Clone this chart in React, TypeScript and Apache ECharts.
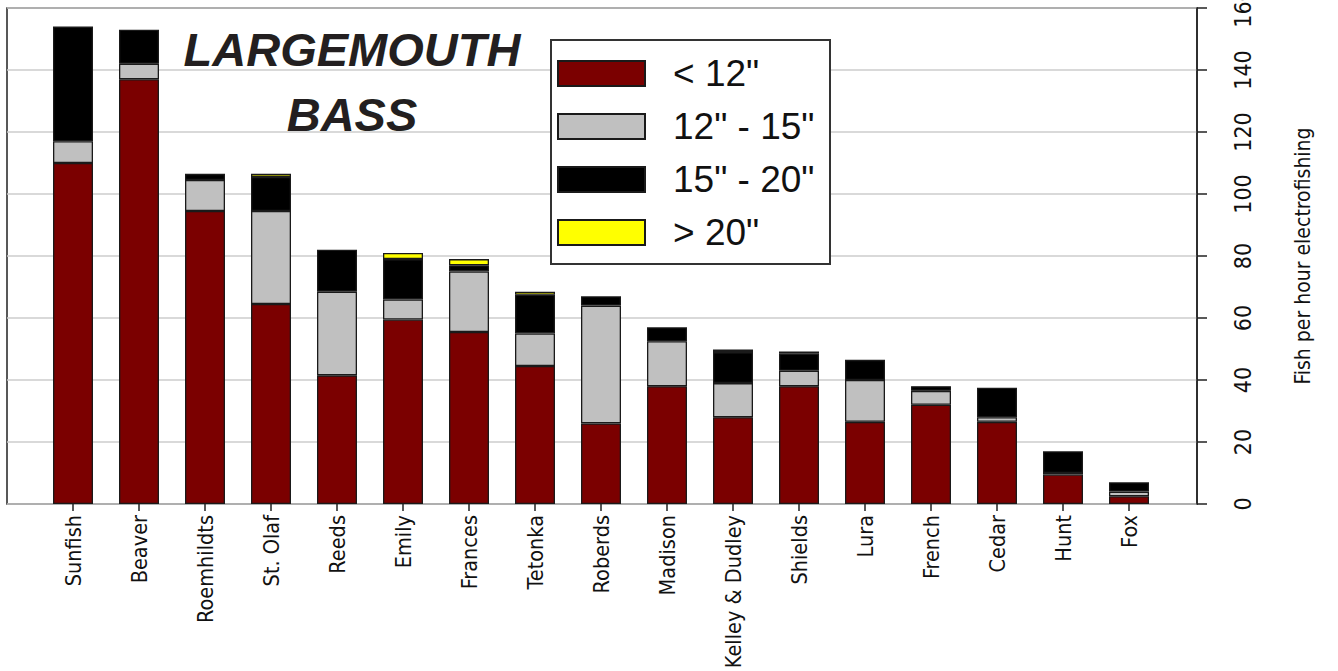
import React, { useEffect, useRef } from "react";
import * as echarts from "echarts";

const lakes = [
  "Sunfish", "Beaver", "Roemhildts", "St. Olaf", "Reeds", "Emily", "Frances", "Tetonka",
  "Roberds", "Madison", "Kelley & Dudley", "Shields", "Lura", "French", "Cedar", "Hunt", "Fox",
];
const under12 = [110, 137, 94.5, 64.5, 41.5, 59.5, 55.5, 44.5, 26, 38, 28, 38, 26.5, 32, 26.5, 9.5, 2.5];
const from12to15 = [7, 5, 10, 30, 27, 6.5, 19.5, 10.5, 38, 14.5, 11, 5, 13.5, 4.5, 1.5, 0.5, 1.5];
const from15to20 = [37, 11, 2, 11, 13.5, 13, 2, 12.5, 3, 4.5, 10, 5.5, 6.5, 1.5, 9.5, 7, 3];
const over20 = [0, 0, 0, 1, 0, 2, 2, 1, 0, 0, 0.8, 0.7, 0, 0, 0, 0, 0];

const seriesNames = ['< 12"', '12" - 15"', '15" - 20"', '> 20"'];
const seriesColors = ["#7B0000", "#C0C0C0", "#000000", "#FFFF00"];
const yTicks = [0, 20, 40, 60, 80, 100, 120, 140, 160];

const titleText = "LARGEMOUTH\nBASS";
const yAxisName = "Fish per hour electrofishing";

const NARROW = '"Liberation Sans Narrow", "DejaVu Sans Condensed", "Roboto Condensed", sans-serif';

export default function App() {
  const ref = useRef<HTMLDivElement>(null);
  useEffect(() => {
    if (!ref.current) return;
    const chart = echarts.init(ref.current, null, { renderer: "svg" });
    const allSeries = [under12, from12to15, from15to20, over20];
    const option = {
      animation: false,
      backgroundColor: "#ffffff",
      grid: [
        { left: 7, right: 141, top: 8, bottom: 167, show: true, borderColor: "#222", borderWidth: 1.5, backgroundColor: "transparent", outerBoundsMode: "none", containLabel: false },
        { left: 40, right: 176, top: 8, bottom: 167, outerBoundsMode: "none", containLabel: false },
      ],
      xAxis: [
        { type: "category", gridIndex: 0, data: lakes, show: false },
        {
          type: "category",
          gridIndex: 1,
          data: lakes,
          axisLine: { show: false },
          axisTick: { show: true, alignWithLabel: true, length: 7, lineStyle: { color: "#222", width: 1.5 } },
          axisLabel: { interval: 0, rotate: 90, margin: 11, fontSize: 21.5, fontFamily: NARROW, color: "#111" },
        },
      ],
      yAxis: [
        {
          type: "value",
          gridIndex: 0,
          position: "right",
          min: yTicks[0],
          max: yTicks[yTicks.length - 1],
          interval: 20,
          axisLine: { show: true, lineStyle: { color: "#222", width: 1.5 } },
          axisTick: { show: true, length: 10, lineStyle: { color: "#222", width: 1.5 } },
          axisLabel: { rotate: 90, margin: 34, fontSize: 23, fontFamily: NARROW, color: "#111" },
          splitLine: { show: true, lineStyle: { color: "#cccccc", width: 1.5 } },
          name: yAxisName,
          nameLocation: "middle",
          nameRotate: 90,
          nameGap: 95,
          nameTextStyle: { fontSize: 21, fontFamily: NARROW, color: "#111" },
        },
        { type: "value", gridIndex: 1, min: 0, max: 160, interval: 20, show: false },
      ],
      legend: {
        orient: "vertical",
        left: 551,
        top: 40,
        padding: [15, 12, 13, 6],
        itemWidth: 87,
        itemHeight: 25,
        itemGap: 16,
        borderColor: "#333",
        borderWidth: 2,
        backgroundColor: "#fff",
        selectedMode: false,
        textStyle: { fontSize: 37, fontFamily: '"Liberation Sans", Arial, sans-serif', color: "#111", width: 145, lineHeight: 30, padding: [0, 0, 0, 23] },
        data: seriesNames.map((n) => ({ name: n, icon: "rect" })),
      },
      graphic: [
        {
          type: "text",
          x: 352,
          y: 17,
          style: {
            text: titleText,
            align: "center",
            verticalAlign: "top",
            fontSize: 47,
            fontWeight: "bold",
            fontStyle: "italic",
            fontFamily: '"Liberation Sans", Arial, sans-serif',
            lineHeight: 65,
            fill: "#231F20",
          },
          z: 10,
        },
      ],
      series: allSeries.map((vals, i) => ({
        name: seriesNames[i],
        type: "bar",
        stack: "total",
        xAxisIndex: 1,
        yAxisIndex: 1,
        barWidth: 40,
        data: vals.map((v) => (v === 0 ? "-" : v)),
        itemStyle: { color: seriesColors[i], borderColor: "#1a1a1a", borderWidth: 1.3 },
      })),
    };
    chart.setOption(option as any);
    return () => chart.dispose();
  }, []);
  return <div ref={ref} style={{ position: "fixed", left: 0, top: 0, width: 1338, height: 671 }} />;
}
